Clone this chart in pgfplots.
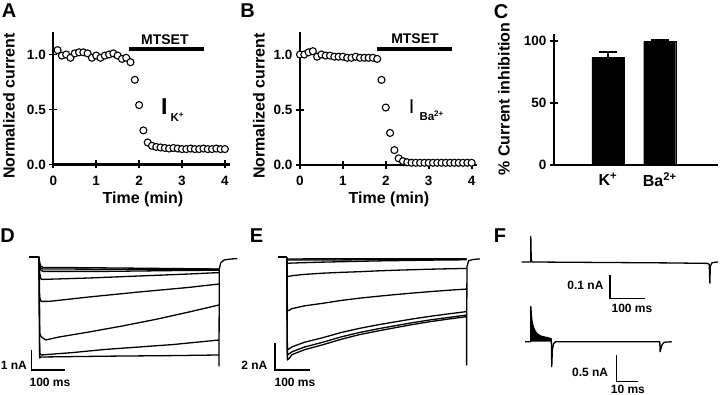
\documentclass[border=0pt]{standalone}
\usepackage{pgfplots}
\pgfplotsset{compat=1.18}
\usepackage{fontspec}
\setmainfont{Liberation Sans}
\newcommand{\lab}{\fontsize{16}{16}\selectfont\bfseries}
\newcommand{\tck}{\fontsize{13.5}{13.5}\selectfont\bfseries}
\newcommand{\pan}{\fontsize{20}{20}\selectfont\bfseries}
\newcommand{\sbf}{\fontsize{12}{12}\selectfont\bfseries}
\newcommand{\mts}{\fontsize{14}{14}\selectfont\bfseries}
\pgfplotsset{
  trace/.style={black, line width=1.3pt, line join=round},
  sbar/.style={black, line width=1.4pt},
  circ/.style={only marks, mark=*, mark size=3.5pt, mark options={fill=white, draw=black, line width=1.1pt}},
  tc/.style={
    anchor=south west, enlargelimits=false, clip=false,
    axis x line=bottom, axis y line=left,
    axis line style={-, line width=2.2pt},
    tick align=center, major tick length=8pt,
    every tick/.style={black, line width=1.8pt},
    tick label style={font=\tck},
  },
  hid/.style={anchor=south west, enlargelimits=false, clip=false, hide axis},
}
\begin{document}
\begin{tikzpicture}
\path[use as bounding box] (0pt,0pt) rectangle (720pt,395pt);

% ---------------- A ----------------
\begin{axis}[tc, at={(53.3pt,230.5pt)}, x=42.9pt, y=110pt,
  xmin=0, xmax=4.12, ymin=0, ymax=1.2,
  xtick={0,1,2,3,4}, xticklabels={0,1,2,3,4},
  x tick label style={yshift=-4pt},
  ytick={0,0.5,1}, yticklabels={0.0,0.5,1.0}]
\addplot[circ] coordinates {
(0.1,1.04)(0.2,0.99)(0.3,1.00)(0.4,0.97)(0.5,1.01)(0.6,1.02)(0.7,1.02)(0.8,1.01)(0.9,0.97)
(1.0,0.99)(1.1,0.97)(1.2,0.99)(1.3,1.00)(1.4,1.01)(1.5,0.99)(1.6,0.96)(1.7,0.97)(1.8,0.93)
(1.9,0.77)(2.0,0.54)(2.1,0.31)(2.2,0.20)(2.3,0.17)(2.4,0.16)(2.5,0.155)(2.6,0.15)(2.7,0.145)
(2.8,0.15)(2.9,0.145)(3.0,0.14)(3.1,0.14)(3.2,0.145)(3.3,0.14)(3.4,0.14)(3.5,0.145)(3.6,0.14)
(3.7,0.14)(3.8,0.145)(3.9,0.14)(4.0,0.14)};
\addplot[line width=3.8pt] coordinates {(1.77,1.05)(3.51,1.05)};
\node[font=\mts] at (axis cs:2.60,1.138) {MTSET};
\node[font=\fontsize{23}{23}\selectfont\bfseries] at (axis cs:2.59,0.525) {I};
\node[font=\fontsize{11.5}{11.5}\selectfont\bfseries] at (axis cs:2.89,0.43) {K\textsuperscript{+}};
\end{axis}
\node[font=\lab, rotate=90] at (9pt,289pt) {Normalized current};
\node[font=\lab] at (143pt,196pt) {Time (min)};
\node[font=\pan] at (9pt,384.5pt) {A};

% ---------------- B ----------------
\begin{axis}[tc, at={(300pt,230pt)}, x=42.9pt, y=110.5pt,
  xmin=0, xmax=4.12, ymin=0, ymax=1.2,
  xtick={0,1,2,3,4}, xticklabels={0,1,2,3,4},
  x tick label style={yshift=-4pt},
  ytick={0,0.5,1}, yticklabels={0.0,0.5,1.0}]
\addplot[circ] coordinates {
(0.0,1.00)(0.1,1.00)(0.2,1.02)(0.3,1.03)(0.4,0.98)(0.5,1.00)(0.6,0.99)(0.7,0.99)(0.8,0.98)
(0.9,0.98)(1.0,0.98)(1.1,0.97)(1.2,0.97)(1.3,0.98)(1.4,0.97)(1.5,0.97)(1.6,0.97)(1.7,0.97)
(1.8,0.96)(1.9,0.77)(2.0,0.52)(2.1,0.29)(2.2,0.135)(2.3,0.06)(2.4,0.035)(2.5,0.025)(2.6,0.02)
(2.7,0.02)(2.8,0.02)(2.9,0.02)(3.0,0.02)(3.1,0.02)(3.2,0.02)(3.3,0.02)(3.4,0.02)(3.5,0.02)
(3.6,0.02)(3.7,0.02)(3.8,0.02)(3.9,0.02)(4.0,0.02)};
\addplot[line width=3.8pt] coordinates {(1.80,1.05)(3.55,1.05)};
\node[font=\mts] at (axis cs:2.68,1.147) {MTSET};
\node[font=\fontsize{20}{20}\selectfont] at (axis cs:2.60,0.53) {I};
\node[font=\fontsize{11.5}{11.5}\selectfont\bfseries] at (axis cs:3.07,0.443) {Ba\textsuperscript{2+}};
\end{axis}
\node[font=\lab, rotate=90] at (259pt,289pt) {Normalized current};
\node[font=\lab] at (389pt,196pt) {Time (min)};
\node[font=\pan] at (247.5pt,384.5pt) {B};

% ---------------- C ----------------
\begin{axis}[tc, at={(554pt,230pt)}, x=51.9pt, y=1.243pt,
  xmin=-0.037, xmax=3.12, ymin=0, ymax=105,
  xtick={1,2}, xticklabels={K\textsuperscript{+},Ba\textsuperscript{2+}},
  xtick style={draw=none},
  x tick label style={font=\lab},
  ytick={0,50,100}, yticklabels={0,50,100}]
\addplot[ybar, bar width=32pt, fill=black, draw=black,
  error bars/.cd, y dir=plus, y explicit,
  error bar style={line width=2pt},
  error mark options={rotate=90, mark size=9pt, line width=2pt}]
  coordinates {(1,86.5) +- (0,4.2) (2,99.2) +- (0,1.3)};
\end{axis}
\node[font=\lab, rotate=90] at (504pt,296pt) {\% Current inhibition};
\node[font=\pan] at (501pt,383.3pt) {C};

% ---------------- D ----------------
\begin{axis}[hid, at={(29pt,18pt)}, x=0.3333pt, y=20pt,
  xmin=-30, xmax=600, ymin=-6, ymax=0.5]
\addplot[trace, line width=1.8pt] coordinates {(-29,0)(0,0)};
\addplot[trace] coordinates {(0,0)(2,-0.3)(5,-0.45)(12,-0.52)(100,-0.53)(300,-0.56)(540,-0.6)};
\addplot[trace] coordinates {(0,0)(2,-0.35)(5,-0.55)(12,-0.6)(200,-0.61)(540,-0.62)};
\addplot[trace] coordinates {(0,0)(2,-0.45)(5,-0.65)(12,-0.72)(200,-0.72)(400,-0.68)(540,-0.66)};
\addplot[trace] coordinates {(0,0)(2,-0.8)(6,-1.1)(12,-1.12)(150,-1.05)(300,-0.95)(450,-0.85)(540,-0.78)};
\addplot[trace] coordinates {(0,0)(2,-2.0)(6,-2.22)(30,-2.22)(150,-2.0)(300,-1.75)(450,-1.52)(540,-1.35)};
\addplot[trace] coordinates {(0,0)(2,-3.8)(6,-3.98)(20,-4.15)(60,-4.0)(150,-3.75)(250,-3.45)(350,-3.12)(450,-2.75)(540,-2.4)};
\addplot[trace] coordinates {(0,0)(2,-4.8)(6,-4.9)(100,-4.78)(200,-4.62)(300,-4.5)(400,-4.38)(480,-4.25)(540,-4.15)};
\addplot[trace] coordinates {(0,0)(2,-5.05)(6,-5.0)(200,-4.96)(400,-4.93)(540,-4.9)(540,-5.45)(541,-0.6)(545,-0.3)(555,-0.15)(575,-0.1)(595,-0.08)};
\addplot[sbar] coordinates {(-22,-4.65)(-22,-5.65)(78,-5.65)};
\node[anchor=east, font=\sbf] at (axis cs:-26,-5.4) {1 nA};
\node[font=\sbf] at (axis cs:33,-6.25) {100 ms};
\end{axis}
\node[font=\pan] at (7.5pt,159.5pt) {D};

% ---------------- E ----------------
\begin{axis}[hid, at={(272.7pt,17.7pt)}, x=0.35pt, y=13.33pt,
  xmin=-40, xmax=560, ymin=-9, ymax=0.5]
\addplot[trace, line width=1.8pt] coordinates {(-24,0)(0,0)};
\addplot[trace] coordinates {(0,0)(2,-0.12)(514,-0.1)};
\addplot[trace] coordinates {(0,0)(2,-0.2)(100,-0.2)(514,-0.15)};
\addplot[trace] coordinates {(0,0)(2,-0.45)(15,-0.43)(51,-0.40)(103,-0.36)(154,-0.33)(206,-0.30)(257,-0.27)(308,-0.25)(360,-0.23)(411,-0.21)(463,-0.20)(514,-0.18)};
\addplot[trace] coordinates {(0,0)(2,-1.45)(15,-1.38)(51,-1.28)(103,-1.19)(154,-1.13)(206,-1.08)(257,-1.02)(308,-0.97)(360,-0.93)(411,-0.89)(463,-0.86)(514,-0.83)};
\addplot[trace] coordinates {(0,0)(2,-3.95)(6,-4.0)(15,-3.85)(51,-3.64)(103,-3.45)(154,-3.24)(206,-3.07)(257,-2.93)(308,-2.80)(360,-2.68)(411,-2.57)(463,-2.47)(514,-2.38)};
\addplot[trace] coordinates {(0,0)(2,-6.95)(15,-6.72)(51,-6.37)(103,-6.03)(154,-5.65)(206,-5.34)(257,-5.08)(308,-4.85)(360,-4.62)(411,-4.42)(463,-4.24)(514,-4.07)};
\addplot[trace] coordinates {(0,0)(2,-7.33)(15,-7.09)(51,-6.73)(103,-6.37)(154,-5.98)(206,-5.65)(257,-5.38)(308,-5.14)(360,-4.9)(411,-4.69)(463,-4.51)(514,-4.33)};
\addplot[trace] coordinates {(0,0)(2,-7.7)(8,-7.55)(15,-7.30)(51,-6.93)(103,-6.56)(154,-6.16)(206,-5.81)(257,-5.54)(308,-5.29)(360,-5.04)(411,-4.82)(463,-4.63)(514,-4.45)(514,-8.08)(515,-0.7)(520,-0.25)(535,-0.15)(552,-0.12)};
\addplot[sbar] coordinates {(-33.4,-6.45)(-33.4,-8.45)(66.6,-8.45)};
\node[anchor=east, font=\sbf] at (axis cs:-45,-8.08) {2 nA};
\node[font=\sbf] at (axis cs:23.7,-9.35) {100 ms};
\end{axis}
\node[font=\pan] at (256.5pt,159.5pt) {E};

% ---------------- F (top) ----------------
\begin{axis}[hid, at={(520.2pt,86.4pt)}, x=0.35pt, y=233pt,
  xmin=-30, xmax=540, ymin=-0.2, ymax=0.15]
\addplot[trace] coordinates {(-25.7,0)(0,0)(0.3,0.109)(1.5,0.01)(4,0)(200,-0.002)(400,-0.004)(505,-0.006)(510,-0.01)(512,-0.091)(513,-0.02)(518,-0.003)(535,0)};
\addplot[sbar] coordinates {(226.6,-0.0558)(226.6,-0.156)(326.6,-0.156)};
\node[anchor=east, font=\sbf] at (axis cs:218,-0.099) {0.1 nA};
\node[font=\sbf] at (axis cs:289.4,-0.199) {100 ms};
\end{axis}

% ---------------- F (bottom) ----------------
\begin{axis}[hid, at={(519.85pt,5.3pt)}, x=2.17pt, y=53.3pt,
  xmin=-5, xmax=70, ymin=-0.9, ymax=0.8]
\addplot[fill=black, draw=black, line width=0.6pt] coordinates {(0,0)(0,0.66)(0.3,0.5)(0.6,0.38)(1.2,0.28)(2,0.2)(2.76,0.16)(4.3,0.11)(5.8,0.094)(7.5,0.075)(8.9,0.063)(9.5,0.05)(9.5,0)};
\addplot[trace] coordinates {(-2.6,0)(0,0)(0.05,0.66)(0.3,0.5)(0.6,0.38)(1.2,0.28)(2,0.2)(2.76,0.16)(4.3,0.11)(5.8,0.094)(8.9,0.063)(9.5,0.05)(9.7,-0.47)(10,-0.15)(10.5,-0.04)(11.5,0)(59.5,0)(59.6,-0.19)(60.5,-0.06)(61.5,-0.01)(65,0)};
\addplot[sbar] coordinates {(39.6,-0.25)(39.6,-0.75)(49.6,-0.75)};
\node[anchor=east, font=\sbf] at (axis cs:37.3,-0.57) {0.5 nA};
\node[font=\sbf, inner sep=0pt] at (axis cs:44.8,-0.9) {10 ms};
\end{axis}
\node[font=\pan] at (500pt,159pt) {F};
\end{tikzpicture}
\end{document}
